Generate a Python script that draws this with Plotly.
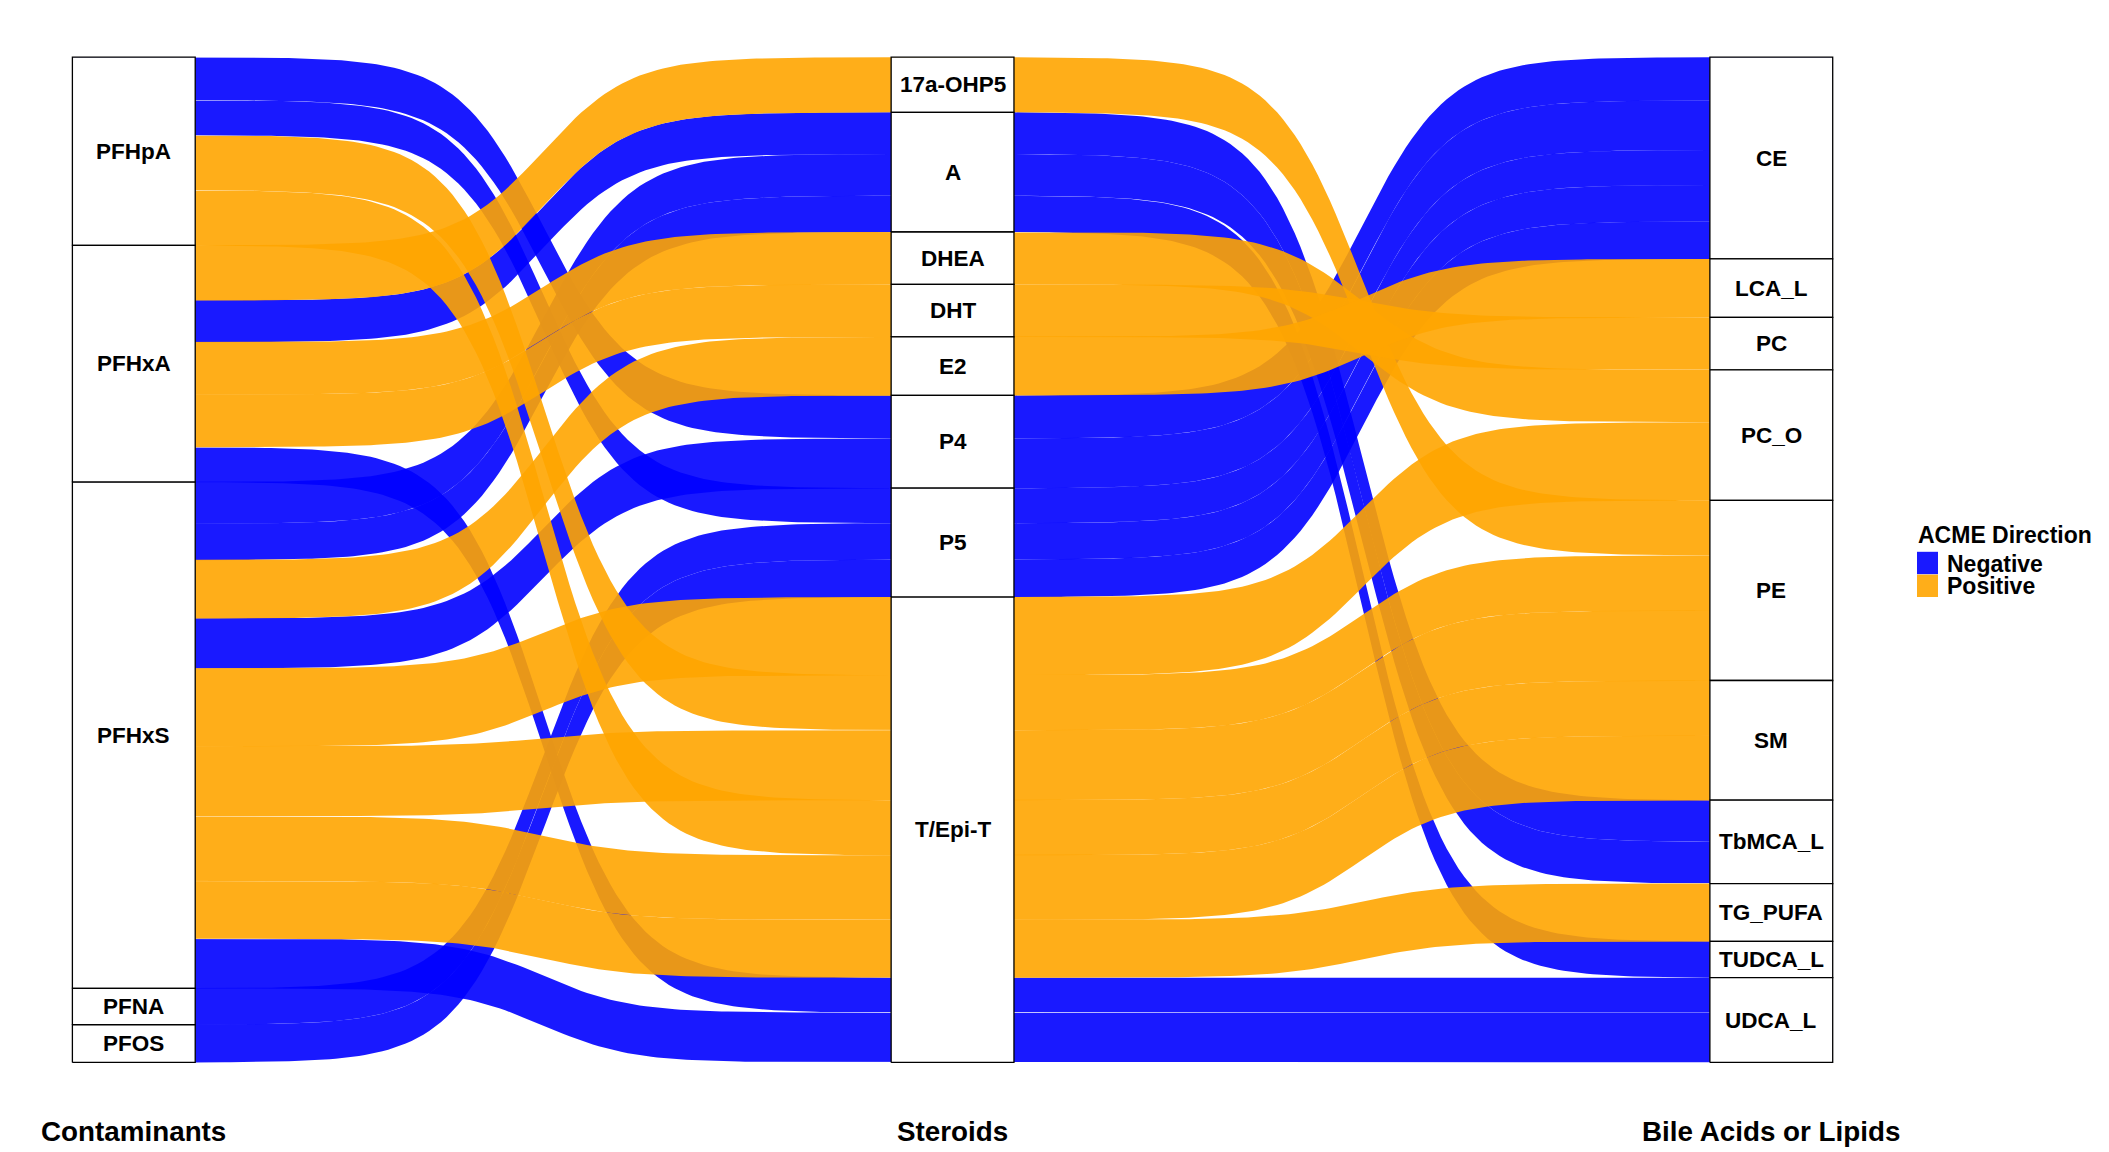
import numpy as np
import plotly.graph_objects as go

# ---------------- data ----------------
axis_titles = ["Contaminants", "Steroids", "Bile Acids or Lipids"]
contaminants = ["PFHpA", "PFHxA", "PFHxS", "PFNA", "PFOS"]
steroids = ["17a-OHP5", "A", "DHEA", "DHT", "E2", "P4", "P5", "T/Epi-T"]
lipids = ["CE", "LCA_L", "PC", "PC_O", "PE", "SM", "TbMCA_L", "TG_PUFA", "TUDCA_L", "UDCA_L"]
directions = ["Negative", "Positive"]
legend_title = "ACME Direction"

alluvium_contaminant = ["PFHpA", "PFHpA", "PFHpA", "PFHpA",
                        "PFHxA", "PFHxA", "PFHxA", "PFHxA", "PFHxA",
                        "PFHxS", "PFHxS", "PFHxS", "PFHxS", "PFHxS", "PFHxS", "PFHxS", "PFHxS", "PFHxS",
                        "PFNA", "PFOS"]
alluvium_steroid = ["P4", "P5", "T/Epi-T", "T/Epi-T",
                    "17a-OHP5", "A", "DHEA", "DHT", "T/Epi-T",
                    "A", "A", "E2", "P4", "T/Epi-T", "T/Epi-T", "T/Epi-T", "T/Epi-T", "T/Epi-T",
                    "P5", "P5"]
alluvium_lipid = ["CE", "CE", "PE", "SM",
                  "PE", "TbMCA_L", "PC_O", "PC", "UDCA_L",
                  "TbMCA_L", "TUDCA_L", "LCA_L", "CE", "PC_O", "PE", "SM", "TG_PUFA", "UDCA_L",
                  "CE", "CE"]
alluvium_direction = ["Negative", "Negative", "Positive", "Positive",
                      "Positive", "Negative", "Positive", "Positive", "Negative",
                      "Negative", "Negative", "Positive", "Negative", "Positive", "Positive", "Positive",
                      "Positive", "Negative",
                      "Negative", "Negative"]
alluvium_weight = [3.2, 2.6, 4.1, 4.1,
                   4.1, 3.1, 3.9, 3.9, 2.6,
                   3.1, 2.7, 4.35, 3.7, 5.8, 5.2, 4.8, 4.3, 3.7,
                   2.7, 2.8]

# ---------------- style ----------------
fill_colors = {"Negative": "rgba(0,0,255,0.9)", "Positive": "rgba(255,165,0,0.9)"}
FONT = "Liberation Sans, Arial, sans-serif"
W, H = 2109, 1152
STRATUM_WIDTH = 0.15
CURVE_RANGE = 8.0
NPTS = 120
# pixel geometry used to set the axis ranges
PX_AXIS1, PX_AXIS3 = 133.8, 1771.3
PX_TOP, PX_BOTTOM = 57.2, 1062.4

# ---------------- layout computation (ggalluvial-like lode ordering) ----------------
levels = [contaminants, steroids, lipids]
keys = [alluvium_contaminant, alluvium_steroid, alluvium_lipid]
n = len(alluvium_weight)
idx = [[levels[k].index(keys[k][a]) for a in range(n)] for k in range(3)]
guidance = {0: [0, 1, 2], 1: [1, 2, 0], 2: [2, 1, 0]}
total = float(sum(alluvium_weight))

top = np.zeros((3, n))
bot = np.zeros((3, n))
for k in range(3):
    order = sorted(range(n), key=lambda a: tuple(idx[g][a] for g in guidance[k]) + (a,))
    cum = total
    for a in order:
        top[k, a] = cum
        cum -= alluvium_weight[a]
        bot[k, a] = cum

hw = STRATUM_WIDTH / 2.0
lo, hi = 1 / (1 + np.exp(CURVE_RANGE)), 1 / (1 + np.exp(-CURVE_RANGE))


def shape(t):
    v = 1 / (1 + np.exp(-CURVE_RANGE * (2 * t - 1)))
    return (v - lo) / (hi - lo)


def edge(yv):
    xs, ys = [], []
    for k in range(3):
        xs += [k + 1 - hw, k + 1 + hw]
        ys += [yv[k], yv[k]]
        if k < 2:
            t = np.linspace(0, 1, NPTS)[1:-1]
            xa, xb = k + 1 + hw, k + 2 - hw
            xs += list(xa + (xb - xa) * t)
            ys += list(yv[k] + (yv[k + 1] - yv[k]) * shape(t))
    return xs, ys


fig = go.Figure()

# negative alluvia drawn first, positive ones on top
draw_order = sorted(range(n), key=lambda a: (directions.index(alluvium_direction[a]), a))
for a in draw_order:
    xt, yt = edge(top[:, a])
    xb_, yb_ = edge(bot[:, a])
    fig.add_trace(go.Scatter(
        x=xt + xb_[::-1], y=yt + yb_[::-1],
        mode="lines", fill="toself",
        fillcolor=fill_colors[alluvium_direction[a]],
        line=dict(width=0, color="rgba(0,0,0,0)"),
        hoverinfo="text",
        text=f"{alluvium_contaminant[a]} → {alluvium_steroid[a]} → {alluvium_lipid[a]} ({alluvium_direction[a]})",
        showlegend=False,
    ))

# strata boxes and labels
annotations = []
for k in range(3):
    for j, lev in enumerate(levels[k]):
        members = [a for a in range(n) if idx[k][a] == j]
        if not members:
            continue
        y1 = max(top[k, a] for a in members)
        y0 = min(bot[k, a] for a in members)
        x0, x1 = k + 1 - hw, k + 1 + hw
        fig.add_trace(go.Scatter(
            x=[x0, x1, x1, x0, x0], y=[y0, y0, y1, y1, y0],
            mode="lines", fill="toself", fillcolor="white",
            line=dict(color="black", width=1.3),
            hoverinfo="skip", showlegend=False,
        ))
        annotations.append(dict(
            x=k + 1, y=(y0 + y1) / 2, xref="x", yref="y", text=lev, showarrow=False,
            font=dict(family=FONT, size=22.5, color="black", weight="bold"),
            xanchor="center", yanchor="middle",
        ))

# axis ranges
px_per_x = (PX_AXIS3 - PX_AXIS1) / 2.0
xmin = 1 - PX_AXIS1 / px_per_x
xmax = 3 + (W - PX_AXIS3) / px_per_x
px_per_y = (PX_BOTTOM - PX_TOP) / total
ymax = total + PX_TOP / px_per_y
ymin = -(H - PX_BOTTOM) / px_per_y

# axis titles (bottom)
for k, t in enumerate(axis_titles):
    annotations.append(dict(
        x=k + 1, y=-(1131 - PX_BOTTOM) / px_per_y, xref="x", yref="y", text=t, showarrow=False,
        font=dict(family=FONT, size=27.8, color="black", weight="bold"),
        xanchor="center", yanchor="middle",
    ))

# legend (title, swatches, labels)
shapes = []
annotations.append(dict(
    x=1916 / W, y=1 - 535 / H, xref="paper", yref="paper", text=legend_title, showarrow=False,
    font=dict(family=FONT, size=23, color="black", weight="bold"), xanchor="left", yanchor="middle",
))
for i, d in enumerate(directions):
    yc = 563 + i * 22.8
    shapes.append(dict(
        type="rect", xref="paper", yref="paper",
        x0=1917 / W, x1=1938 / W, y0=1 - (yc - 11.2) / H, y1=1 - (yc + 11.2) / H,
        fillcolor=fill_colors[d], line=dict(width=0),
    ))
    annotations.append(dict(
        x=1945 / W, y=1 - (yc + 0.5) / H, xref="paper", yref="paper", text=d, showarrow=False,
        font=dict(family=FONT, size=23, color="black", weight="bold"), xanchor="left", yanchor="middle",
    ))

fig.update_layout(
    width=W, height=H,
    margin=dict(l=0, r=0, t=0, b=0),
    paper_bgcolor="white", plot_bgcolor="white",
    xaxis=dict(range=[xmin, xmax], visible=False, fixedrange=True),
    yaxis=dict(range=[ymin, ymax], visible=False, fixedrange=True),
    annotations=annotations, shapes=shapes,
    showlegend=False,
)

fig.write_html("out.html")
